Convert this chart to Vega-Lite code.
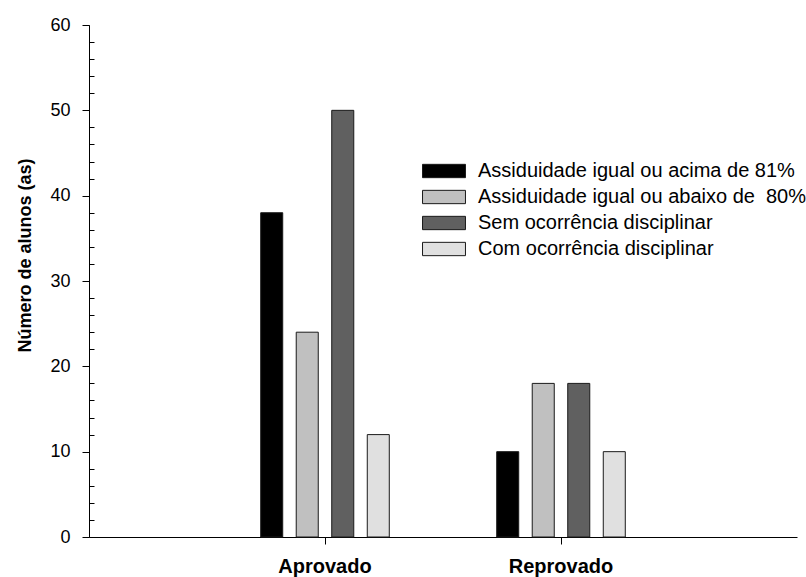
{
  "$schema": "https://vega.github.io/schema/vega-lite/v6.json",
  "autosize": "none",
  "padding": {"left": 89, "top": 25, "right": 9, "bottom": 40},
  "width": 708,
  "height": 512,
  "background": "white",
  "config": {
    "view": {"stroke": null},
    "font": "Liberation Sans"
  },
  "data": {
    "values": [
      {"situacao": "Aprovado", "grupo": "Assiduidade igual ou acima de 81%", "alunos": 38},
      {"situacao": "Aprovado", "grupo": "Assiduidade igual ou abaixo de  80%", "alunos": 24},
      {"situacao": "Aprovado", "grupo": "Sem ocorrência disciplinar", "alunos": 50},
      {"situacao": "Aprovado", "grupo": "Com ocorrência disciplinar", "alunos": 12},
      {"situacao": "Reprovado", "grupo": "Assiduidade igual ou acima de 81%", "alunos": 10},
      {"situacao": "Reprovado", "grupo": "Assiduidade igual ou abaixo de  80%", "alunos": 18},
      {"situacao": "Reprovado", "grupo": "Sem ocorrência disciplinar", "alunos": 18},
      {"situacao": "Reprovado", "grupo": "Com ocorrência disciplinar", "alunos": 10}
    ]
  },
  "layer": [
    {
      "mark": {"type": "bar", "stroke": "#1a1a1a", "strokeWidth": 1},
      "encoding": {
        "x": {
          "field": "situacao",
          "type": "nominal",
          "scale": {"paddingInner": 0.398, "paddingOuter": 0.699},
          "axis": {
            "title": null,
            "labelAngle": 0,
            "labelFont": "Liberation Sans",
            "labelFontWeight": "bold",
            "labelFontSize": 20,
            "labelColor": "#000000",
            "labelPadding": 12,
            "tickSize": 7,
            "tickColor": "#000000",
            "domainColor": "#000000",
            "grid": false
          }
        },
        "xOffset": {
          "field": "grupo",
          "type": "nominal",
          "scale": {
            "domain": ["Assiduidade igual ou acima de 81%", "Assiduidade igual ou abaixo de  80%", "Sem ocorrência disciplinar", "Com ocorrência disciplinar"],
            "paddingInner": 0.38,
            "paddingOuter": 0.19
          }
        },
        "y": {
          "field": "alunos",
          "type": "quantitative",
          "scale": {"domain": [0, 60], "nice": false},
          "axis": {
            "title": "Número de alunos (as)",
            "titleFont": "Liberation Sans",
            "titleFontSize": 18,
            "titleFontWeight": "bold",
            "titleColor": "#000000",
            "titleAngle": -90,
            "titleX": -64,
            "titleY": 230,
            "titleAlign": "center",
            "titleBaseline": "middle",
            "values": [0, 10, 20, 30, 40, 50, 60],
            "labelFont": "Liberation Sans",
            "labelFontSize": 18,
            "labelColor": "#000000",
            "labelPadding": 12,
            "tickSize": 7,
            "tickColor": "#000000",
            "domainColor": "#000000",
            "grid": false
          }
        },
        "color": {
          "field": "grupo",
          "type": "nominal",
          "scale": {
            "domain": ["Assiduidade igual ou acima de 81%", "Assiduidade igual ou abaixo de  80%", "Sem ocorrência disciplinar", "Com ocorrência disciplinar"],
            "range": ["#000000", "#c0c0c0", "#606060", "#e0e0e0"]
          },
          "legend": {
            "title": null,
            "orient": "none",
            "legendX": 345,
            "legendY": 136,
            "padding": 0,
            "symbolType": "M-3,-0.93H3V0.93H-3Z",
            "symbolSize": 205,
            "symbolStrokeColor": "#1a1a1a",
            "symbolStrokeWidth": 1,
            "symbolOpacity": 1,
            "labelFont": "Liberation Sans",
            "labelFontSize": 20,
            "labelColor": "#000000",
            "labelOffset": 24,
            "labelLimit": 500,
            "labelExpr": "replace(datum.label, '  ', ' \u00a0')",
            "rowPadding": 6
          }
        }
      }
    },
    {
      "mark": {"type": "tick", "opacity": 0},
      "encoding": {
        "y": {
          "field": "alunos",
          "type": "quantitative",
          "axis": {
            "orient": "right",
            "offset": -708,
            "title": null,
            "labels": true,
            "labelColor": "#ffffff",
            "labelFontSize": 6,
            "labelPadding": 2,
            "domain": true,
            "domainColor": "#000000",
            "grid": false,
            "ticks": true,
            "values": [2, 4, 6, 8, 12, 14, 16, 18, 22, 24, 26, 28, 32, 34, 36, 38, 42, 44, 46, 48, 52, 54, 56, 58],
            "tickSize": 5,
            "tickColor": "#000000"
          }
        }
      }
    }
  ],
  "resolve": {"axis": {"y": "independent"}}
}
